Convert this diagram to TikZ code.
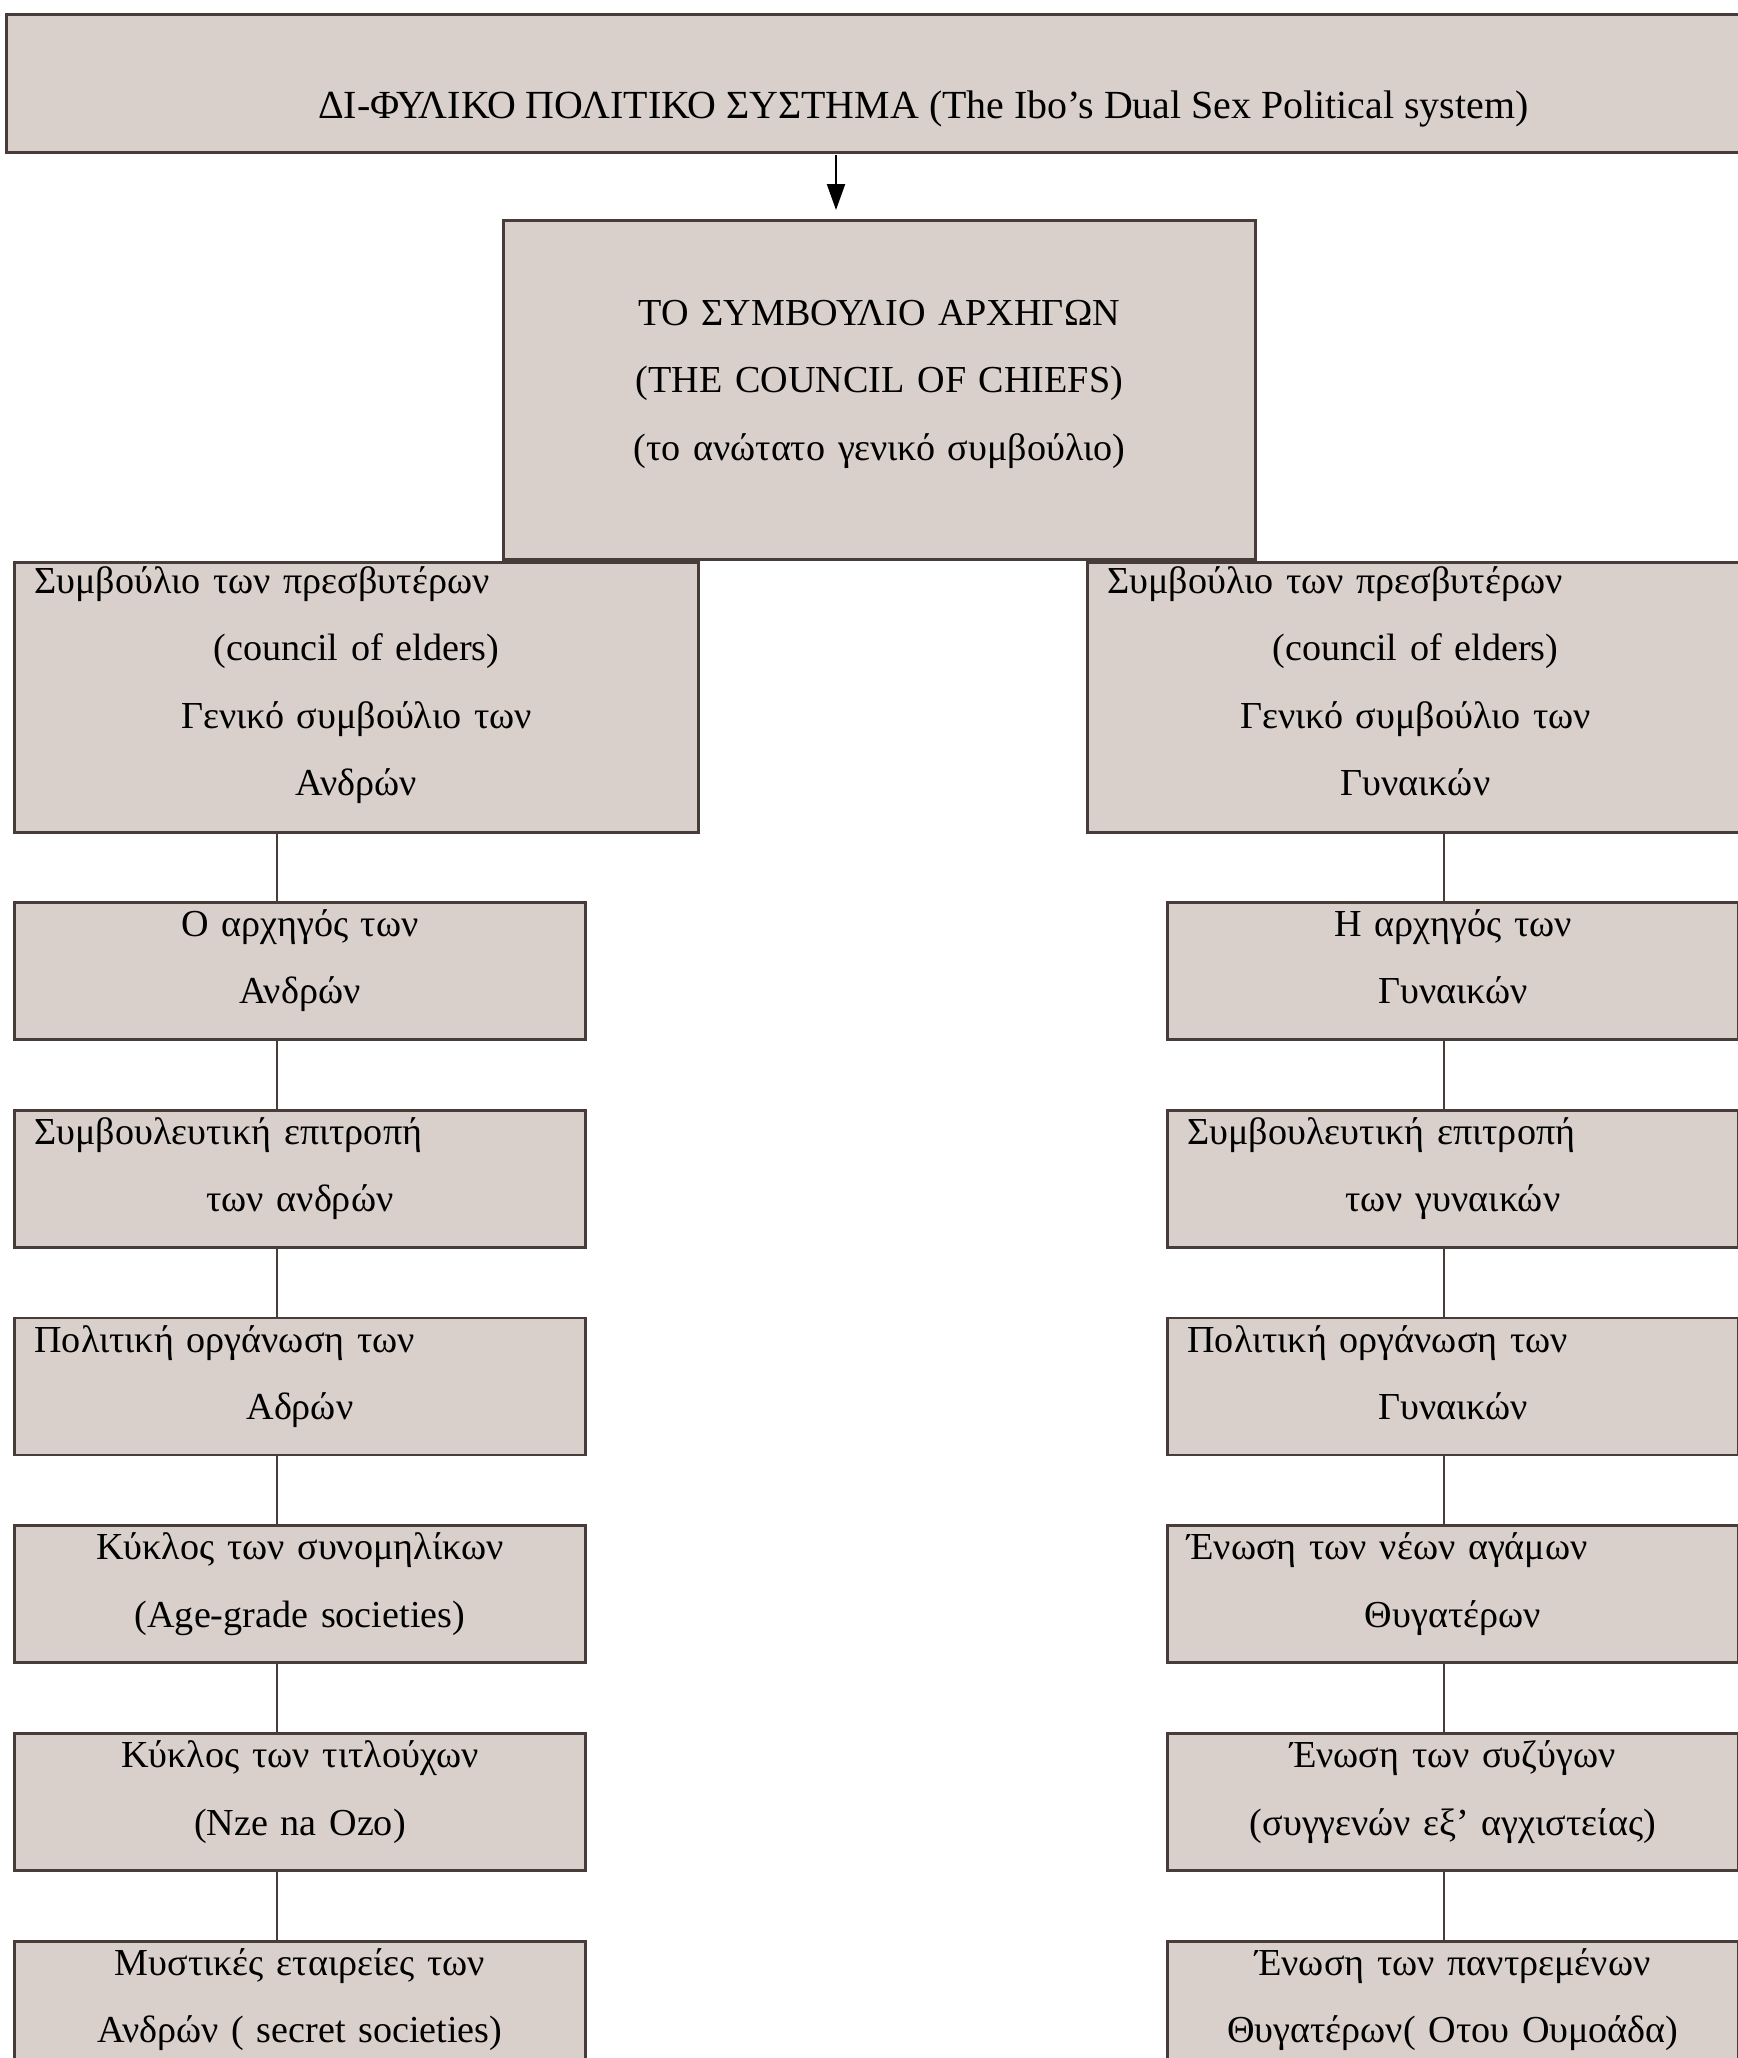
\documentclass[tikz,border=0pt]{standalone}
\usepackage{fontspec}
\setmainfont{Liberation Serif}
\usetikzlibrary{arrows.meta}
\usetikzlibrary{positioning}
\definecolor{boxfill}{RGB}{217,208,203}
\definecolor{boxline}{RGB}{72,60,58}
% a row pushed to the left edge of a centred box
\newcommand{\flushrow}[1]{\makebox[\linewidth][l]{#1}}
\tikzset {
  org node/.style = {
    draw = boxline,
    fill = boxfill,
    line width = 0.8pt,
    rectangle,
    inner xsep = 0.2cm,
    inner ysep = 0,
    align = center,
    font = \fontsize{10.85pt}{19.2pt}\selectfont
  },
  % strip with the title
  title box/.style = {
    org node,
    font = \fontsize{11.35pt}{19.2pt}\selectfont,
    minimum width = 18.34cm,
    text height = 1.04cm,
    text depth = 0.34cm
  },
  chief box/.style = {
    org node,
    text width = 7.12cm,
    text height = 1.05cm,
    text depth = 2.34cm
  },
  elder box/.style = {
    org node,
    text width = #1,
    text height = 0.31cm,
    text depth = 2.39cm
  },
  % one step of a column
  rank box/.style = {
    org node,
    text width = 5.31cm,
    text height = 0.34cm,
    text depth = 1.03cm
  },
  link/.style = {
    draw = boxline,
    line width = 0.6pt
  },
  node distance = 0.68cm
}
\begin{document}
\begin{tikzpicture}
  \useasboundingbox (0,0) rectangle (17.37,-20.58);
  \node[title box, anchor=north west] (title) at (0.05,-0.13)
    {ΔΙ-ΦΥΛΙΚΟ ΠΟΛΙΤΙΚΟ ΣΥΣΤΗΜΑ (The Ibo’s Dual Sex Political system)};
  \node[chief box, anchor=north west] (council) at (5.02,-2.19)
    {ΤΟ ΣΥΜΒΟΥΛΙΟ ΑΡΧΗΓΩΝ\\ (THE COUNCIL OF CHIEFS)\\ (το ανώτατο γενικό συμβούλιο)};
  \node[elder box=6.44cm, anchor=north west] (men-elders) at (0.13,-5.61)
    {\flushrow{Συμβούλιο των πρεσβυτέρων}\\ (council of elders)\\ Γενικό συμβούλιο των\\ Ανδρών};
  \node[elder box=6.16cm, anchor=north west] (women-elders) at (10.86,-5.61)
    {\flushrow{Συμβούλιο των πρεσβυτέρων}\\ (council of elders)\\ Γενικό συμβούλιο των\\ Γυναικών};

  % men
  \node[rank box, anchor=north west] (men-chief) at (0.13,-9.01) {Ο αρχηγός των\\ Ανδρών};
  \node[rank box] (men-advice) [below=of men-chief] {\flushrow{Συμβουλευτική επιτροπή}\\ των ανδρών};
  \node[rank box] (men-politics) [below=of men-advice] {\flushrow{Πολιτική οργάνωση των}\\ Αδρών};
  \node[rank box] (men-age) [below=of men-politics] {Κύκλος των συνομηλίκων\\ (Age-grade societies)};
  \node[rank box] (men-titled) [below=of men-age] {Κύκλος των τιτλούχων\\ (Nze na Ozo)};
  \node[rank box] (men-secret) [below=of men-titled] {Μυστικές εταιρείες των\\ Ανδρών ( secret societies)};

  % women
  \node[rank box, anchor=north west] (women-chief) at (11.66,-9.01) {Η αρχηγός των\\ Γυναικών};
  \node[rank box] (women-advice) [below=of women-chief] {\flushrow{Συμβουλευτική επιτροπή}\\ των γυναικών};
  \node[rank box] (women-politics) [below=of women-advice] {\flushrow{Πολιτική οργάνωση των}\\ Γυναικών};
  \node[rank box] (women-young) [below=of women-politics] {\flushrow{Ένωση των νέων αγάμων}\\ Θυγατέρων};
  \node[rank box] (women-wives) [below=of women-young] {Ένωση των συζύγων\\ (συγγενών εξ’ αγχιστείας)};
  \node[rank box] (women-married) [below=of women-wives] {Ένωση των παντρεμένων\\ Θυγατέρων( Οτου Ουμοάδα)};

  \coordinate (drop) at (8.36,-1.55);
  \coordinate (men-line) at (2.77,0);
  \coordinate (women-line) at (14.44,0);

  \draw[link, draw = black, -{Triangle[length=2.6mm, width=1.8mm]}, shorten >=0.9mm] (drop) -- (drop |- council.north);

  \draw[link] (men-elders.south -| men-line) -- (men-chief.north -| men-line);
  \draw[link] (men-chief.south -| men-line) -- (men-advice.north -| men-line);
  \draw[link] (men-advice.south -| men-line) -- (men-politics.north -| men-line);
  \draw[link] (men-politics.south -| men-line) -- (men-age.north -| men-line);
  \draw[link] (men-age.south -| men-line) -- (men-titled.north -| men-line);
  \draw[link] (men-titled.south -| men-line) -- (men-secret.north -| men-line);

  \draw[link] (women-elders.south -| women-line) -- (women-chief.north -| women-line);
  \draw[link] (women-chief.south -| women-line) -- (women-advice.north -| women-line);
  \draw[link] (women-advice.south -| women-line) -- (women-politics.north -| women-line);
  \draw[link] (women-politics.south -| women-line) -- (women-young.north -| women-line);
  \draw[link] (women-young.south -| women-line) -- (women-wives.north -| women-line);
  \draw[link] (women-wives.south -| women-line) -- (women-married.north -| women-line);
\end{tikzpicture}
\end{document}
